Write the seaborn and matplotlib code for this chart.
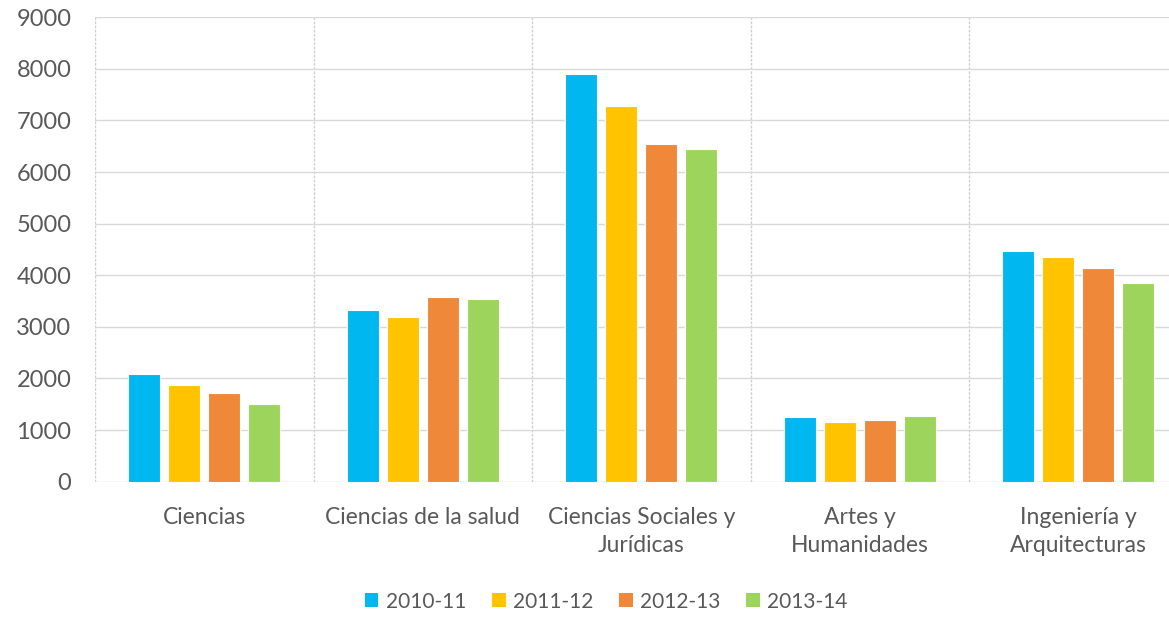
import matplotlib
matplotlib.use("Agg")
import matplotlib.pyplot as plt
import matplotlib.patches as mpatches
import seaborn as sns
import pandas as pd
import numpy as np

categories = ["Ciencias", "Ciencias de la salud", "Ciencias Sociales y\nJurídicas",
              "Artes y\nHumanidades", "Ingeniería y\nArquitecturas"]
periods = ["2010-11", "2011-12", "2012-13", "2013-14"]
v_2010_11 = [2090, 3327, 7895, 1248, 4467]
v_2011_12 = [1876, 3198, 7287, 1163, 4360]
v_2012_13 = [1715, 3573, 6550, 1190, 4147]
v_2013_14 = [1508, 3535, 6442, 1273, 3857]
yticks = [0, 1000, 2000, 3000, 4000, 5000, 6000, 7000, 8000, 9000]
colors = ["#00B7F0", "#FFC300", "#F0883A", "#9DD55C"]

series = [v_2010_11, v_2011_12, v_2012_13, v_2013_14]
rows = []
for p, vals in zip(periods, series):
    for c, v in zip(categories, vals):
        rows.append({"cat": c, "period": p, "value": v})
df = pd.DataFrame(rows)

sns.set_style("white")
plt.rcParams["font.family"] = ["Lato", "DejaVu Sans"]

fig = plt.figure(figsize=(11.69, 6.17), dpi=100)
ax = fig.add_axes([95 / 1169, 135.3 / 617, (1187.5 - 95) / 1169, (617 - 17.3 - 135.3) / 617])

sns.barplot(data=df, x="cat", y="value", hue="period", order=categories, hue_order=periods,
            palette=colors, saturation=1, width=0.73, gap=0.2, edgecolor="white", linewidth=0.8,
            ax=ax, legend=False, errorbar=None)

ax.set_xlim(-0.5, 4.5)
ax.set_ylim(0, 9000)
ax.set_yticks(yticks)
ax.set_yticklabels([str(t) for t in yticks])
ax.set_xlabel("")
ax.set_ylabel("")
for s in ax.spines.values():
    s.set_visible(False)

ax.set_axisbelow(True)
ax.yaxis.grid(True, color="#D9D9D9", linewidth=1.0, linestyle="-")
ax.set_xticks(np.arange(-0.5, 5, 1), minor=True)
ax.xaxis.grid(True, which="minor", color="#D0D0D0", linewidth=1.0, linestyle=(0, (2, 1)))
ax.xaxis.grid(False, which="major")
ax.tick_params(axis="x", which="both", length=0, pad=18, labelsize=16.5, labelcolor="#595959")
ax.tick_params(axis="y", length=0, pad=17, labelsize=17, labelcolor="#595959")
for lbl in ax.get_xticklabels():
    lbl.set_linespacing(1.4)

handles = [mpatches.Patch(facecolor=c, edgecolor="none", label=p) for c, p in zip(colors, periods)]
fig.legend(handles=handles, loc="center", bbox_to_anchor=(606 / 1169, 14 / 617 + 0.002),
           ncol=4, frameon=False, fontsize=15, handlelength=0.65, handleheight=0.65,
           handletextpad=0.34, columnspacing=1.25, labelcolor="#595959")

fig.savefig("out.png", dpi=100)
